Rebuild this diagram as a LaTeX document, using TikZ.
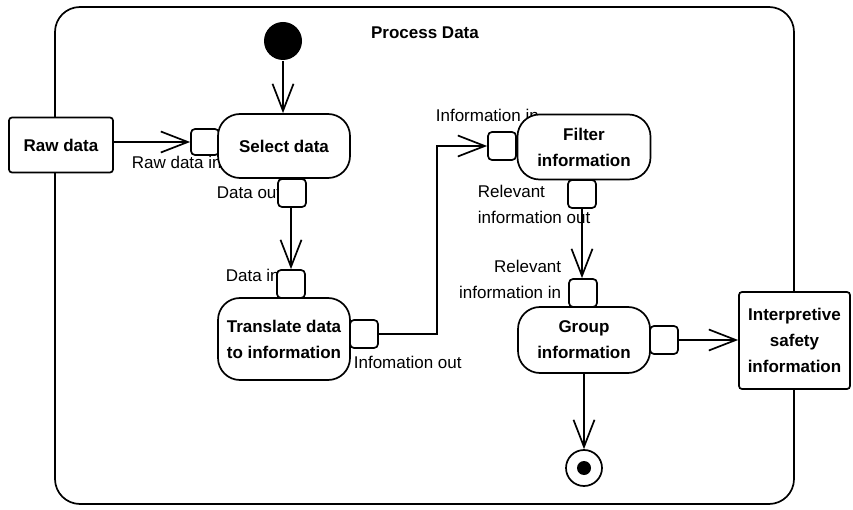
\documentclass[tikz,border=0pt]{standalone}
\usepackage{fontspec}
\setmainfont{Liberation Sans}
\usepackage{tikz}
\usetikzlibrary{positioning}
\usetikzlibrary{calc}
\usetikzlibrary{arrows.meta}

\begin{document}
\begin{tikzpicture}[x=1pt, y=-1pt, line width=1.7pt,
    font=\fontsize{17}{26}\selectfont,
    action/.style={draw, fill=white, rounded corners=22pt, align=center, font=\fontsize{17}{26}\selectfont\bfseries, inner sep=0pt},
    objbox/.style={draw, fill=white, rounded corners=3pt, align=center, font=\fontsize{17}{26}\selectfont\bfseries, inner sep=0pt},
    pin/.style={draw, fill=white, rounded corners=4pt, minimum width=28pt, minimum height=28pt, inner sep=0pt},
    lbl/.style={inner sep=0pt, align=left},
    flow/.style={-{Straight Barb[length=27pt, width=21pt]}}]

    \useasboundingbox (0,0) rectangle (853,510);

    % activity frame
    \draw[rounded corners=25pt] (55,7) rectangle (794,504);
    \node[font=\fontsize{17}{26}\selectfont\bfseries] (title) at (425,33) {Process Data};

    % pin labels (drawn first, nodes cover them)
    \node[lbl, anchor=west] (lRawIn) at (131,162) {Raw data in};
    \node[lbl, anchor=east] (lDataOut) at (282,193) {Data out};
    \node[lbl, anchor=west] (lDataIn) at (225,275) {Data in};
    \node[lbl, anchor=west] (lInfoOut) at (353,362) {Infomation out};
    \node[lbl, anchor=west] (lInfoIn) at (435,115) {Information in};
    \node[lbl, anchor=west] (lRelOut) at (477,204) {Relevant\\information out};
    \node[lbl, anchor=east, align=right] (lRelIn) at (562,279) {Relevant\\information in};

    % pins
    \node[pin, minimum height=26pt] (pinRawIn) at (205,142) {};
    \node[pin] (pinDataOut) at (292,193) {};
    \node[pin] (pinDataIn) at (291,284) {};
    \node[pin] (pinInfoOut) at (364,334) {};
    \node[pin] (pinInfoIn) at (502,146) {};
    \node[pin] (pinRelOut) at (582,194) {};
    \node[pin] (pinRelIn) at (583,293) {};
    \node[pin] (pinGrpOut) at (664,340) {};

    % objects and actions
    \node[objbox, minimum width=104pt, minimum height=55pt] (rawdata) at (61,145) {Raw data};
    \node[objbox, minimum width=111pt, minimum height=97pt] (interp) at (794.5,340.5) {Interpretive\\safety\\information};
    \node[action, minimum width=132pt, minimum height=64pt] (select) at (284,146) {Select data};
    \node[action, minimum width=132pt, minimum height=82pt] (translate) at (284,339) {Translate data\\to information};
    \node[action, minimum width=133pt, minimum height=65pt] (filter) at (584,147) {Filter\\information};
    \node[action, minimum width=132pt, minimum height=66pt] (group) at (584,340) {Group\\information};

    % initial and final
    \node[circle, fill=black, minimum size=38pt, inner sep=0pt] (init) at (283,41) {};
    \node[circle, draw, fill=white, minimum size=36pt, inner sep=0pt] (final) at (584,468) {};
    \node[circle, fill=black, minimum size=14pt, inner sep=0pt] (finaldot) at (final) {};

    % flows
    \draw[flow] (init.south) -- (init.south |- select.north);
    \draw[flow] (rawdata.east |- pinRawIn) -- (pinRawIn.west);
    \draw[flow] (pinDataOut.south -| pinDataIn) -- (pinDataIn.north);
    \draw[flow] (pinInfoOut.east) -- ++(58,0) |- (pinInfoIn.west);
    \draw[flow] (pinRelOut.south) -- (pinRelOut.south |- pinRelIn.north);
    \draw[flow] (pinGrpOut.east) -- (interp.west |- pinGrpOut);
    \draw[flow] (group.south) -- (final.north);

\end{tikzpicture}
\end{document}
